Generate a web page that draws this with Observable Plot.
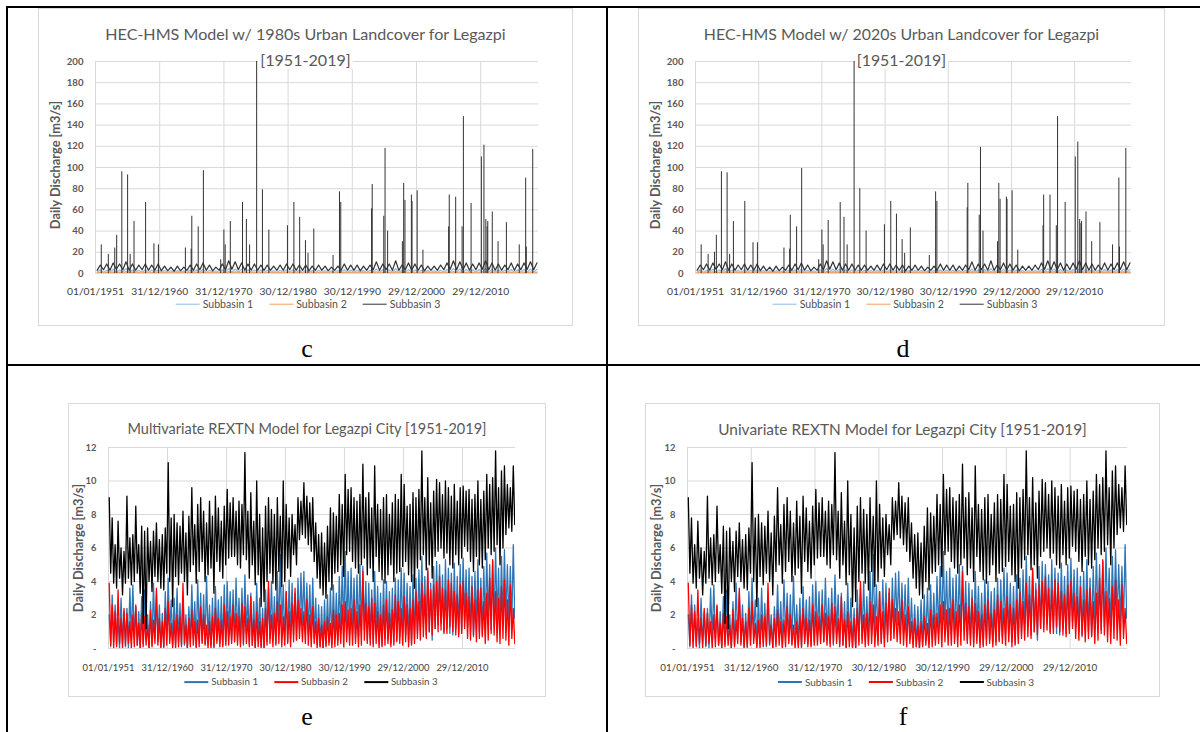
<!DOCTYPE html>
<html><head><meta charset="utf-8">
<script src="https://cdn.jsdelivr.net/npm/d3@7"></script>
<script src="https://cdn.jsdelivr.net/npm/@observablehq/plot@0.6"></script>
<style>
html,body{margin:0;padding:0;background:#fff}
#page{position:relative;width:1200px;height:732px;overflow:hidden;background:#fff;font-family:Lato,"Open Sans",sans-serif}
.rule{position:absolute;background:#000}
.frame{position:absolute;border:1px solid #d9d9d9;box-sizing:border-box;background:#fff}
.title{position:absolute;text-align:center;color:#595959;white-space:nowrap;line-height:1}
.title span{background:#fff;padding:0 2px}
.ytitle{position:absolute;white-space:nowrap;color:#595959;font-weight:bold;transform:translate(-50%,-50%) rotate(-90deg);line-height:1}
.legend{position:absolute;display:flex;align-items:center;white-space:nowrap;color:#505050;transform:translate(-50%,-50%);line-height:1}
.legend .it{display:flex;align-items:center;margin:0 8px}
.legend .sw{display:inline-block;width:24px;height:1.5px;margin-right:3px}
.lab{position:absolute;font-family:"Liberation Serif","Times New Roman",serif;font-size:26px;transform:translate(-50%,-50%);line-height:1;color:#000}
svg{position:absolute;overflow:visible}
</style></head><body><div id="page"></div>
<script>
// ---------- shared axis categories ----------
const tickYears = [1951, 1961, 1971, 1981, 1991, 2001, 2011];
const dateLabels = ["01/01/1951","31/12/1960","31/12/1970","30/12/1980","30/12/1990","29/12/2000","29/12/2010"];
const seriesNames = ["Subbasin 1","Subbasin 2","Subbasin 3"];
const hmsYTicks = [0,20,40,60,80,100,120,140,160,180,200];
const hmsYLabels = ["0","20","40","60","80","100","120","140","160","180","200"];
const rexYTicks = [0,2,4,6,8,10,12];
const rexYLabels = ["-","2","4","6","8","10","12"];

// ---------- HEC-HMS baselines: [low, high] per year 1951-2019 ----------
const hmsSub3Base = [
 3,8, 3.5,9, 3,10, 4,9, 3.5,11, 3,9, 3,8, 3.5,9, 3,8, 3,9,
 2.5,7, 2.5,6, 2,7, 2.5,6, 3,8, 3,9, 3.5,10, 3,8, 2.5,6, 3,9,
 3.5,12, 4,11, 3.5,10, 3,9, 3,9, 3,8, 3,8, 3,7, 3,8, 3,9,
 3.5,9, 3,8, 3,8, 2.5,7, 3,8, 3,7, 2.5,6, 3,7, 3,9, 3,8,
 3,8, 2.5,7, 3,8, 3.5,11, 3,9, 3.5,9, 3,12, 3,8, 3.5,10, 3,9,
 3,8, 2.5,7, 3,7, 3,8, 3.5,10, 4,12, 3.5,11, 3.5,10, 3,9, 3.5,10,
 4,12, 3.5,10, 3,9, 3,8, 3.5,10, 3,9, 3.5,10, 4,11, 3.5,10];
const hmsSub1Base = [
 1.2,3.5, 1.0,3.0, 1.3,4.0, 1.1,3.4, 1.4,4.5, 1.0,3.2, 1.1,3.0, 1.2,3.6, 1.0,3.1, 1.1,3.5,
 0.9,2.8, 0.8,2.5, 0.8,2.7, 0.9,2.4, 1.0,3.2, 1.1,3.6, 1.2,4.0, 1.0,3.1, 0.9,2.6, 1.0,3.4,
 1.4,4.6, 1.3,4.2, 1.2,3.9, 1.1,3.5, 1.0,3.4, 1.1,3.2, 1.0,3.0, 0.9,2.8, 1.0,3.1, 1.1,3.5,
 1.2,3.6, 1.0,3.2, 1.0,3.0, 0.9,2.7, 1.0,3.1, 0.9,2.8, 0.8,2.5, 0.9,2.8, 1.1,3.5, 1.0,3.2,
 1.0,3.1, 0.9,2.7, 1.0,3.1, 1.3,4.2, 1.1,3.5, 1.2,3.6, 1.3,4.5, 1.0,3.1, 1.2,3.9, 1.1,3.4,
 1.0,3.1, 0.9,2.7, 0.9,2.8, 1.0,3.1, 1.2,3.8, 1.4,4.6, 1.3,4.2, 1.2,3.9, 1.1,3.5, 1.2,3.8,
 1.4,4.6, 1.2,3.9, 1.1,3.5, 1.0,3.1, 1.2,3.8, 1.1,3.5, 1.2,3.8, 1.3,4.2, 1.2,3.9];
const hmsSub2Base = [
 0.3,1.2, 0.3,1.0, 0.4,1.4, 0.3,1.1, 0.4,1.6, 0.3,1.1, 0.3,1.0, 0.3,1.2, 0.3,1.0, 0.3,1.2,
 0.2,0.9, 0.2,0.8, 0.2,0.9, 0.2,0.8, 0.3,1.1, 0.3,1.2, 0.3,1.4, 0.3,1.0, 0.2,0.9, 0.3,1.1,
 0.4,1.6, 0.4,1.5, 0.3,1.3, 0.3,1.2, 0.3,1.1, 0.3,1.1, 0.3,1.0, 0.2,0.9, 0.3,1.0, 0.3,1.2,
 0.3,1.2, 0.3,1.1, 0.3,1.0, 0.2,0.9, 0.3,1.0, 0.2,0.9, 0.2,0.8, 0.2,0.9, 0.3,1.2, 0.3,1.1,
 0.3,1.0, 0.2,0.9, 0.3,1.0, 0.4,1.5, 0.3,1.2, 0.3,1.2, 0.4,1.6, 0.3,1.0, 0.3,1.3, 0.3,1.1,
 0.3,1.0, 0.2,0.9, 0.2,0.9, 0.3,1.0, 0.3,1.3, 0.4,1.6, 0.4,1.5, 0.3,1.3, 0.3,1.2, 0.3,1.3,
 0.4,1.6, 0.3,1.3, 0.3,1.2, 0.3,1.0, 0.3,1.3, 0.3,1.2, 0.3,1.3, 0.4,1.5, 0.3,1.3];

// ---------- HEC-HMS storm peaks (Subbasin 3) ----------
const spikeYears = [1951.9,1953.0,1954.0,1954.3,1955.1,1956.0,1956.4,1957.0,1958.8,1960.1,1960.8,1965.0,1965.9,1966.0,1967.0,1967.8,1970.5,1971.0,1971.2,1972.0,1973.9,1974.5,1975.0,1976.1,1977.0,1978.0,1980.9,1981.9,1982.8,1983.7,1984.1,1985.0,1988.0,1989.0,1989.2,1994.0,1994.1,1995.9,1996.1,1996.5,1998.8,1999.0,1999.2,2000.2,2000.3,2001.1,2002.0,2006.0,2006.1,2007.1,2008.1,2008.3,2009.5,2011.1,2011.5,2011.8,2012.0,2012.1,2012.8,2013.7,2015.0,2017.0,2018.0,2018.1,2019.1];
const spike1980s = [27,18,24,36,96,93,18,49,67,28,27,24,23,54,44,97,13,41,27,49,67,51,27,200,79,41,45,67,53,31,19,42,17,77,67,61,84,54,118,40,30,85,69,74,68,78,22,44,74,72,44,148,66,110,121,51,44,49,58,30,48,27,90,25,117];
const spike2020s = [27,18,20,36,96,95,18,49,68,29,29,24,23,55,44,99,13,41,27,50,67,53,27,200,80,40,46,68,56,32,19,43,17,77,68,62,85,55,119,40,30,85,70,72,70,78,22,45,74,74,45,148,67,110,124,51,47,49,58,30,48,27,90,25,118];

// ---------- REXTN: 4 readings per year 1951-2019 ----------
const rexSub3 = [
 9.0,4.5,7.8,3.9, 6.2,3.6,7.6,4.2, 6.0,3.2,5.8,3.9, 9.1,4.2,6.6,3.8, 6.8,4.0,8.5,4.5,
 6.2,3.3,7.3,1.5, 7.0,1.2,7.2,4.0, 6.4,3.4,7.0,4.3, 7.5,4.0,6.5,3.6, 6.8,3.5,7.2,4.5,
 11.1,4.0,7.8,2.5, 8.0,4.3,7.5,3.8, 7.3,4.5,8.2,4.0, 6.9,3.2,7.9,4.6, 9.6,5.0,7.4,3.9,
 8.6,4.6,9.0,5.2, 8.2,4.0,7.5,4.4, 8.8,4.8,7.9,3.3, 9.1,5.2,8.4,4.6, 7.6,4.2,8.5,5.0,
 9.5,5.4,8.7,5.5, 9.0,5.5,8.2,5.0, 8.8,4.8,8.6,5.6, 11.7,5.3,8.2,4.2, 9.3,5.0,7.6,3.8,
 10.0,4.4,8.0,2.5, 7.2,2.8,8.5,4.0, 9.0,4.5,8.3,3.9, 8.0,3.5,9.0,4.6, 7.9,3.7,10.0,4.0,
 8.6,4.8,7.8,4.3, 8.0,5.6,7.4,5.0, 9.0,6.5,8.8,6.8, 9.9,6.6,9.1,6.2, 8.7,5.8,9.0,5.2,
 7.5,4.2,6.8,3.6, 6.9,3.2,6.3,3.0, 7.3,4.0,8.4,3.5, 8.1,4.5,7.9,4.6, 9.2,5.0,8.6,4.3,
 10.4,5.6,9.5,5.8, 9.6,5.2,9.0,4.8, 8.8,4.5,9.2,5.0, 11.0,5.4,9.0,4.4, 9.3,4.8,8.4,4.0,
 10.9,5.5,8.6,4.6, 8.3,4.1,9.0,3.9, 9.2,4.4,8.0,5.0, 8.7,4.0,9.2,4.5, 8.9,4.6,10.4,4.9,
 9.8,5.2,8.5,4.4, 8.6,4.0,9.3,3.6, 9.0,4.8,9.5,5.3, 11.8,5.6,9.0,4.7, 10.2,5.0,8.7,4.2,
 9.4,5.5,10.1,5.8, 9.9,6.0,9.2,5.4, 10.0,5.7,9.6,5.0, 9.1,4.8,9.8,5.6, 8.8,5.0,9.6,5.4,
 9.7,6.1,9.4,5.8, 9.5,5.2,8.9,4.6, 9.2,5.5,10.0,5.0, 8.9,4.8,9.4,5.3, 10.4,6.0,9.8,5.6,
 10.2,5.8,11.8,6.2, 9.6,5.0,10.6,6.0, 10.9,6.8,9.8,7.2, 9.6,7.0,10.9,7.4];
const rexSub1 = [
 2.0,0.1,3.2,0.4, 2.6,0.2,1.8,0.0, 3.0,0.3,2.2,0.1, 2.4,0.0,3.6,0.5, 3.8,0.6,2.5,0.2,
 2.2,0.0,3.1,0.3, 3.5,0.5,2.0,0.0, 2.8,0.2,3.9,0.6, 3.3,0.4,2.6,0.1, 2.1,0.0,3.4,0.5,
 4.2,0.8,2.9,0.2, 3.0,0.3,3.6,0.4, 2.7,0.1,3.1,0.2, 2.0,0.0,2.5,0.3, 3.8,0.6,2.8,0.1,
 4.1,0.7,3.3,0.4, 3.2,0.3,4.3,0.6, 2.6,0.2,3.0,0.0, 3.7,0.5,2.9,0.3, 3.1,0.2,3.8,0.4,
 4.0,0.8,3.4,0.5, 3.5,0.4,4.2,0.7, 3.0,0.3,3.6,0.2, 4.4,0.9,3.2,0.3, 3.3,0.2,2.8,0.0,
 3.9,0.5,3.0,0.1, 2.4,0.0,3.5,0.4, 3.6,0.6,4.0,0.5, 3.1,0.3,4.6,0.8, 5.6,1.0,3.8,0.5,
 3.4,0.4,4.1,0.6, 3.9,0.8,3.3,0.5, 4.2,1.2,4.5,1.4, 4.6,1.0,3.9,0.9, 3.8,0.7,4.2,0.6,
 3.0,0.3,2.6,0.1, 2.5,0.0,2.9,0.2, 3.2,0.4,3.6,0.3, 3.8,0.6,3.3,0.5, 4.3,0.9,4.9,1.0,
 5.8,1.2,4.6,0.8, 4.8,0.9,4.2,0.6, 4.4,0.7,5.0,1.0, 4.9,1.1,4.0,0.5, 3.9,0.6,3.5,0.3,
 4.6,0.9,3.7,0.4, 3.3,0.2,4.1,0.6, 4.0,0.5,3.4,0.3, 3.6,0.4,4.2,0.5, 4.1,0.7,4.8,0.9,
 4.5,0.8,3.9,0.4, 3.7,0.3,4.4,0.6, 4.2,0.9,4.7,1.1, 5.5,1.3,4.3,0.8, 4.6,1.0,3.9,0.5,
 4.9,1.2,5.2,1.4, 5.0,1.5,4.4,1.0, 5.3,1.2,4.8,0.9, 4.5,0.8,5.1,1.2, 4.3,0.9,5.0,1.1,
 5.4,1.6,4.7,1.3, 4.8,1.0,4.3,0.7, 4.6,1.1,5.3,1.0, 4.2,0.8,4.9,1.2, 5.7,1.5,5.0,1.1,
 5.2,1.3,6.0,1.6, 4.8,1.0,5.5,1.4, 5.9,1.8,5.0,1.6, 4.9,1.5,6.2,1.8];
const rexSub2 = [
 3.9,0.2,2.6,0.0, 2.2,0.1,3.5,0.3, 1.8,0.0,2.4,0.2, 2.1,0.3,1.6,0.0, 2.0,0.1,2.6,0.2,
 1.5,0.0,2.1,0.1, 1.9,0.2,1.4,0.0, 2.3,0.1,1.7,0.3, 3.6,0.2,1.8,0.0, 1.6,0.1,2.4,0.2,
 2.8,0.3,1.5,0.0, 1.7,0.0,2.0,0.1, 1.9,0.2,3.9,0.3, 1.4,0.0,1.8,0.1, 2.3,0.2,1.6,0.0,
 1.7,0.1,2.5,0.3, 2.0,0.2,1.4,0.0, 1.6,0.0,1.9,0.1, 2.4,0.3,1.8,0.1, 1.7,0.1,2.6,0.2,
 2.2,0.2,1.9,0.3, 2.6,0.4,2.1,0.2, 1.9,0.1,2.7,0.3, 2.5,0.3,1.8,0.1, 3.1,0.2,1.7,0.0,
 2.2,0.1,1.6,0.0, 1.8,0.0,2.4,0.2, 4.0,0.3,2.0,0.1, 2.1,0.2,2.8,0.3, 2.6,0.1,1.9,0.2,
 3.4,0.3,2.2,0.1, 2.7,0.4,3.6,0.5, 2.9,0.6,2.4,0.4, 2.2,0.3,2.9,0.2, 2.0,0.1,2.5,0.3,
 1.6,0.0,1.8,0.1, 1.4,0.0,1.6,0.1, 1.9,0.2,1.5,0.0, 2.3,0.1,2.0,0.2, 2.1,0.3,2.6,0.1,
 2.8,0.4,2.3,0.2, 2.4,0.2,2.9,0.3, 2.2,0.1,2.6,0.2, 4.6,0.5,2.7,0.3, 2.5,0.2,3.0,0.1,
 2.7,0.3,2.2,0.0, 2.0,0.1,2.6,0.2, 2.9,0.3,2.1,0.1, 2.3,0.2,3.2,0.4, 2.8,0.3,2.4,0.2,
 3.1,0.4,2.6,0.1, 2.4,0.2,2.9,0.3, 3.4,0.6,2.8,0.5, 3.9,0.7,3.2,0.6, 4.8,1.0,3.5,0.8,
 3.8,1.2,4.0,1.0, 4.3,1.1,3.6,0.9, 3.5,0.9,4.1,1.3, 3.9,1.0,3.4,0.8, 3.2,0.7,3.8,0.9,
 4.0,1.2,3.3,0.6, 3.1,0.5,3.7,0.8, 2.9,0.4,3.5,0.6, 3.6,0.7,2.8,0.3, 3.3,0.5,4.2,0.9,
 5.3,0.8,3.4,0.4, 3.0,0.3,3.7,0.6, 4.1,0.5,2.9,0.2, 3.8,0.6,2.4,0.3];

// ---------- helpers ----------
const toSeries = (flat, perYear) => flat.map((v, i) => ({t: 1951 + (i + 0.5) / perYear, v}));
const toSpikes = (vals) => spikeYears.map((t, i) => ({t, v: vals[i]}));
const page = document.getElementById("page");
function div(cls, css, html) {
  const d = document.createElement("div");
  d.className = cls; Object.assign(d.style, css);
  if (html != null) d.innerHTML = html;
  page.appendChild(d); return d;
}

// table borders
div("rule", {left:"6px", top:"6px", width:"1194px", height:"2px"});
div("rule", {left:"6px", top:"6px", width:"2px", height:"726px"});
div("rule", {left:"606px", top:"6px", width:"2px", height:"726px"});
div("rule", {left:"6px", top:"364px", width:"1194px", height:"2px"});

const hmsColors = ["#8dbbe3", "#f2a268", "#333333"];
const rexColors = ["#2e75b6", "#ff0000", "#000000"];

const panels = [
  {frame:{x:38,y:8,w:535,h:318}, plot:{l:95,r:538,t:61,b:273}, svgTop:48, svgBottom:305,
   titles:[["HEC-HMS Model w/ 1980s Urban Landcover for Legazpi",35],["[1951-2019]",61]], tfs:16.1,
   yTicks:hmsYTicks, yLabels:hmsYLabels, yDomain:[0,200], xdy:18, xfs:10.3, yfs:9.6,
   ytitle:[55,165], lfs:10.6, legend:[308,304], label:["c",307,349],
   colors:hmsColors, lineW:[1.2,1.5,1.2],
   series:[toSeries(hmsSub1Base,2), toSeries(hmsSub2Base,2), toSeries(hmsSub3Base,2)], spikes:toSpikes(spike1980s)},
  {frame:{x:638,y:8,w:527,h:318}, plot:{l:695,r:1131,t:61,b:273}, svgTop:48, svgBottom:305,
   titles:[["HEC-HMS Model w/ 2020s Urban Landcover for Legazpi",35],["[1951-2019]",61]], tfs:15.9,
   yTicks:hmsYTicks, yLabels:hmsYLabels, yDomain:[0,200], xdy:18, xfs:10.3, yfs:9.6,
   ytitle:[655,165], lfs:10.6, legend:[905,304], label:["d",903,349],
   colors:hmsColors, lineW:[1.2,1.8,1.2],
   series:[toSeries(hmsSub1Base,2), toSeries(hmsSub2Base,2), toSeries(hmsSub3Base,2)], spikes:toSpikes(spike2020s)},
  {frame:{x:68,y:403,w:478,h:294}, plot:{l:108,r:515,t:447,b:648}, svgTop:437, svgBottom:680,
   titles:[["Multivariate REXTN Model for Legazpi City [1951-2019]",430]], tfs:14.5,
   yTicks:rexYTicks, yLabels:rexYLabels, yDomain:[0,12], xdy:19, xfs:9.4, yfs:9.4,
   ytitle:[78,548], lfs:9.8, legend:[311,682], label:["e",307,717],
   colors:rexColors, lineW:[1.3,1.3,1.3],
   series:[toSeries(rexSub1,4), toSeries(rexSub2,4), toSeries(rexSub3,4)], spikes:null},
  {frame:{x:645,y:403,w:515,h:294}, plot:{l:687,r:1127,t:447,b:648}, svgTop:437, svgBottom:680,
   titles:[["Univariate REXTN Model for Legazpi City [1951-2019]",430]], tfs:15.4,
   yTicks:rexYTicks, yLabels:rexYLabels, yDomain:[0,12], xdy:19, xfs:9.8, yfs:9.4,
   ytitle:[656,548], lfs:10, legend:[906,682], label:["f",903,717],
   colors:rexColors, lineW:[1.3,1.3,1.3],
   series:[toSeries(rexSub1,4), toSeries(rexSub2,4), toSeries(rexSub3,4)], spikes:null}
];

for (const p of panels) {
  const f = p.frame;
  div("frame", {left:f.x+"px", top:f.y+"px", width:f.w+"px", height:f.h+"px"});
  const height = p.svgBottom - p.svgTop;
  const marks = [
    Plot.ruleY(p.yTicks, {stroke:"#d9d9d9", strokeWidth:1}),
    Plot.ruleX(tickYears, {stroke:"#d9d9d9", strokeWidth:1})
  ];
  p.series.forEach((s, k) => {
    marks.push(Plot.line(s, {x:"t", y:"v", stroke:p.colors[k], strokeWidth:p.lineW[k], clip:true}));
    if (k === 2 && p.spikes) marks.push(Plot.ruleX(p.spikes, {x:"t", y1:0, y2:"v", stroke:p.colors[2], strokeWidth:1}));
  });
  marks.push(Plot.text(tickYears, {x:d=>d, text:(d,i)=>dateLabels[i], frameAnchor:"bottom", dy:p.xdy, lineAnchor:"middle", fontSize:p.xfs, fill:"#404040"}));
  marks.push(Plot.text(p.yTicks, {y:d=>d, text:(d,i)=>p.yLabels[i], frameAnchor:"left", dx:-12, textAnchor:"end", lineAnchor:"middle", fontSize:p.yfs, fontWeight:"bold", fill:"#595959"}));
  const svg = Plot.plot({
    width:f.w, height,
    marginLeft:p.plot.l - f.x, marginRight:f.x + f.w - p.plot.r,
    marginTop:p.plot.t - p.svgTop, marginBottom:p.svgBottom - p.plot.b,
    x:{domain:[1951,2020], axis:null}, y:{domain:p.yDomain, axis:null},
    style:{background:"transparent", fontFamily:"Lato, 'Open Sans', sans-serif"},
    marks
  });
  svg.style.left = f.x + "px"; svg.style.top = p.svgTop + "px";
  page.appendChild(svg);
  for (const [txt, cy] of p.titles) {
    div("title", {left:f.x+"px", width:f.w+"px", top:(cy - p.tfs*0.55)+"px", fontSize:p.tfs+"px"}, "<span>"+txt+"</span>");
  }
  div("ytitle", {left:p.ytitle[0]+"px", top:p.ytitle[1]+"px", fontSize:"12.8px"}, "Daily Discharge [m3/s]");
  const lg = div("legend", {left:p.legend[0]+"px", top:p.legend[1]+"px", fontSize:p.lfs+"px"});
  seriesNames.forEach((n, k) => {
    lg.insertAdjacentHTML("beforeend", `<span class="it"><span class="sw" style="background:${p.colors[k]}"></span>${n}</span>`);
  });
  div("lab", {left:p.label[1]+"px", top:p.label[2]+"px"}, p.label[0]);
}
</script></body></html>
